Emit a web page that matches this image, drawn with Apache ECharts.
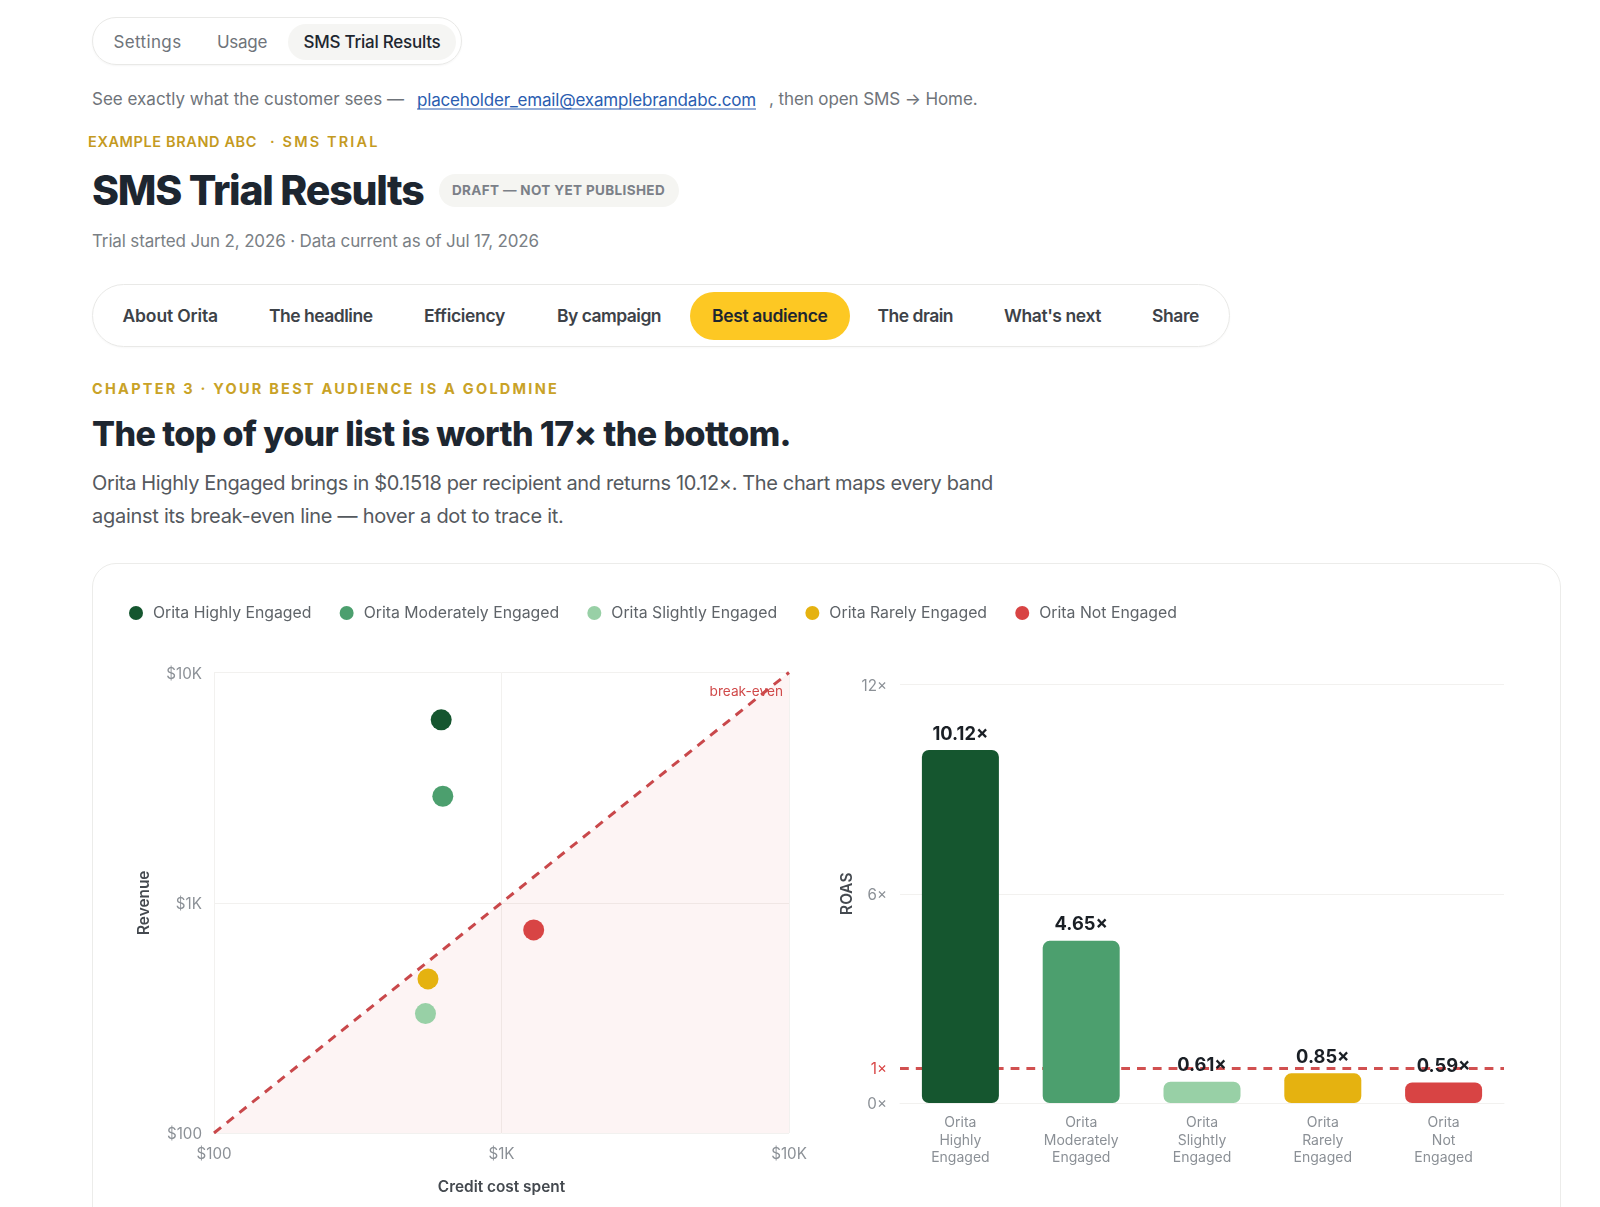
<!DOCTYPE html>
<html><head><meta charset="utf-8">
<script src="https://cdn.jsdelivr.net/npm/echarts@6/dist/echarts.min.js"></script>
<style>
html,body{margin:0;padding:0;background:#fff;width:1600px;height:1207px;overflow:hidden;font-family:Inter,sans-serif}
.b{position:absolute;box-sizing:border-box}
.t{position:absolute;white-space:nowrap;line-height:1;transform:translateY(-50%)}
#chart{position:absolute;left:0;top:0;width:1600px;height:1207px}
</style></head><body>
<div class="b" style="left:92px;top:17px;width:370px;height:48px;border:1.5px solid #e9e9e7;border-radius:24px;box-shadow:0 1px 2px rgba(0,0,0,.04)"></div>
<div class="b" style="left:288px;top:24px;width:168px;height:36px;background:#f5f5f3;border-radius:18px"></div>
<div class="b" style="left:92px;top:284px;width:1138px;height:63px;border:1.5px solid #e9e9e7;border-radius:32px;box-shadow:0 1px 2px rgba(0,0,0,.03)"></div>
<div class="b" style="left:690px;top:292px;width:160px;height:48px;background:#fdc823;border-radius:24px"></div>
<div class="b" style="left:439px;top:174px;width:240px;height:33px;background:#f5f5f2;border-radius:17px"></div>
<div class="b" style="left:92px;top:563px;width:1469px;height:700px;border:1.5px solid #ececea;border-radius:24px"></div>
<div id="texts"></div>
<div id="chart"></div>
<script>
// Chart values
const bandNames = ["Orita Highly Engaged","Orita Moderately Engaged","Orita Slightly Engaged","Orita Rarely Engaged","Orita Not Engaged"];
const creditCost = [617,625,544,555,1294];
const revenue = [6227,2900,330,467,762];
const roas = [10.12,4.65,0.61,0.85,0.59];
const bandColors = ["#15562f","#4c9f6e","#98d0a6","#e5b210","#d84444"];
const breakEvenX = [100,10000];
const breakEvenY = [100,10000];
const logTicks = {100:"$100",1000:"$1K",10000:"$10K"};
const roasTicks = [0,1,6,12];

// Page text: text, x, centre y, target width, size, weight, colour, extra
const pageText = [
 ["Settings",113.5,42,68,17,400,"#6f747a"],
 ["Usage",217,42,50,17,400,"#6f747a"],
 ["SMS Trial Results",303.5,42,137,17,500,"#1d2630"],
 ["See exactly what the customer sees —",92,99.4,312,17,400,"#6f747a"],
 ["placeholder_email@examplebrandabc.com",417,100.4,339,17,400,"#2a5db0","underline"],
 [", then open SMS → Home.",769,99.4,208.5,17,400,"#6f747a"],
 ["EXAMPLE BRAND ABC",88,142.4,169,14.5,600,"#c49a1f"],
 ["· SMS TRIAL",270,142.4,109.5,14.5,600,"#c49a1f"],
 ["SMS Trial Results",92,190,331.5,41,800,"#1d2630"],
 ["DRAFT — NOT YET PUBLISHED",452,191,213,13.5,700,"#7b8088"],
 ["Trial started Jun 2, 2026 · Data current as of Jul 17, 2026",92,241,447,17,400,"#7a7f85"],
 ["About Orita",122.5,316,95.5,17.5,600,"#3d4248"],
 ["The headline",269,316,103.5,17.5,600,"#3d4248"],
 ["Efficiency",424,316,81,17.5,600,"#3d4248"],
 ["By campaign",557,316,104,17.5,600,"#3d4248"],
 ["Best audience",712,316,115.5,17.5,600,"#1d2630"],
 ["The drain",877.5,316,75.5,17.5,600,"#3d4248"],
 ["What's next",1004,316,97,17.5,600,"#3d4248"],
 ["Share",1152,316,47,17.5,600,"#3d4248"],
 ["CHAPTER 3 · YOUR BEST AUDIENCE IS A GOLDMINE",92,388.5,467,14.5,700,"#c9a227"],
 ["The top of your list is worth 17× the bottom.",92,434,699,34,800,"#1d2630"],
 ["Orita Highly Engaged brings in $0.1518 per recipient and returns 10.12×. The chart maps every band",92,483,901,20,400,"#55595e"],
 ["against its break-even line — hover a dot to trace it.",92,516,471.5,20,400,"#55595e"]
];
const holder=document.getElementById('texts');
const ctx=document.createElement('canvas').getContext('2d');
pageText.forEach(([s,x,y,w,size,wt,col,deco])=>{
  const e=document.createElement('div');e.className='t';e.textContent=s;
  ctx.font=wt+' '+size+'px Inter';
  const ls=(w-ctx.measureText(s).width)/s.length;
  e.style.cssText=`left:${x}px;top:${y}px;font-size:${size}px;font-weight:${wt};color:${col};letter-spacing:${ls.toFixed(3)}px;`+(deco?`text-decoration:underline;text-underline-offset:3px;`:'');
  holder.appendChild(e);
});

const FONT='Inter';
const tickColor='#8b9096', nameColor='#44494f', gridColor='#f2f1ef';
const chart=echarts.init(document.getElementById('chart'),null,{renderer:'canvas'});
const scatterSeries=bandNames.map((n,i)=>({
  name:n,type:'scatter',xAxisIndex:0,yAxisIndex:0,symbolSize:21,z:4,
  itemStyle:{color:bandColors[i],opacity:1},
  data:[[creditCost[i],revenue[i]]]
}));
chart.setOption({
  animation:false,
  textStyle:{fontFamily:FONT},
  legend:{left:124,top:600,itemWidth:14,itemHeight:14,itemGap:28.2,icon:'circle',
    textStyle:{fontFamily:FONT,fontSize:15.8,color:'#5f6469',padding:[0,0,0,5]},data:bandNames},
  grid:[
    {left:214,top:672.5,width:575,height:460.5,containLabel:false},
    {left:900,top:684.5,width:604,height:418.5,containLabel:false}
  ],
  xAxis:[
    {type:'log',logBase:10,gridIndex:0,min:100,max:10000,
     name:'Credit cost spent',nameLocation:'middle',nameGap:47,
     nameTextStyle:{fontFamily:FONT,fontSize:15.4,fontWeight:600,color:nameColor},
     axisLine:{show:false},axisTick:{show:false},
     axisLabel:{fontSize:15.2,color:tickColor,margin:14,formatter:v=>logTicks[Math.round(v)]||''},
     splitLine:{show:true,lineStyle:{color:gridColor,width:1}}},
    {type:'category',gridIndex:1,data:bandNames,
     axisLine:{show:true,lineStyle:{color:gridColor}},axisTick:{show:false},
     axisLabel:{fontSize:14,color:tickColor,margin:11,lineHeight:17.6,interval:0,formatter:v=>v.split(' ').join('\n')}}
  ],
  yAxis:[
    {type:'log',logBase:10,gridIndex:0,min:100,max:10000,
     name:'Revenue',nameLocation:'middle',nameGap:62,
     nameTextStyle:{fontFamily:FONT,fontSize:15.4,fontWeight:600,color:nameColor},
     axisLine:{show:false},axisTick:{show:false},
     axisLabel:{fontSize:15.2,color:tickColor,margin:12,verticalAlign:'top',lineHeight:3,formatter:v=>logTicks[Math.round(v)]||''},
     splitLine:{show:true,lineStyle:{color:gridColor,width:1}}},
    {type:'value',gridIndex:1,min:0,max:12,interval:6,
     name:'ROAS',nameLocation:'middle',nameGap:45,
     nameTextStyle:{fontFamily:FONT,fontSize:15.4,fontWeight:600,color:nameColor},
     axisLine:{show:false},axisTick:{show:false},
     axisLabel:{fontSize:15.2,margin:13,verticalAlign:'top',lineHeight:3.5,customValues:roasTicks,formatter:v=>v+'×',
       color:v=>Number(v)===1?'#d84444':tickColor},
     splitLine:{show:true,lineStyle:{color:gridColor,width:1}}}
  ],
  series:[
    {type:'line',name:'break-even',xAxisIndex:0,yAxisIndex:0,z:2,
     symbol:'none',silent:true,
     lineStyle:{color:'#c9484b',width:3,type:[9,7.3]},
     areaStyle:{color:'rgba(216,68,68,0.06)',opacity:1},
     data:breakEvenX.map((x,i)=>[x,breakEvenY[i]]),
     markPoint:{symbol:'circle',symbolSize:0,silent:true,
       data:[{coord:[breakEvenX[1],breakEvenY[1]],
         label:{show:true,position:'left',distance:6,offset:[0,19.5],formatter:'break-even',
           fontFamily:FONT,fontSize:13.7,color:'#d04a4a'}}]}},
    ...scatterSeries,
    {type:'bar',xAxisIndex:1,yAxisIndex:1,barWidth:77,z:3,silent:true,
     data:roas.map((v,i)=>({value:v,itemStyle:{color:bandColors[i],borderRadius:7}})),
     label:{show:true,position:'top',distance:7,fontFamily:FONT,fontSize:18.3,fontWeight:700,color:'#1a1f25',formatter:p=>p.value.toFixed(2)+'×'},
     markLine:{silent:true,symbol:'none',z:2,label:{show:false},
       lineStyle:{color:'#d15050',width:3,type:[8.8,7]},
       data:[{yAxis:1}]}}
  ]
});
</script>
</body></html>
